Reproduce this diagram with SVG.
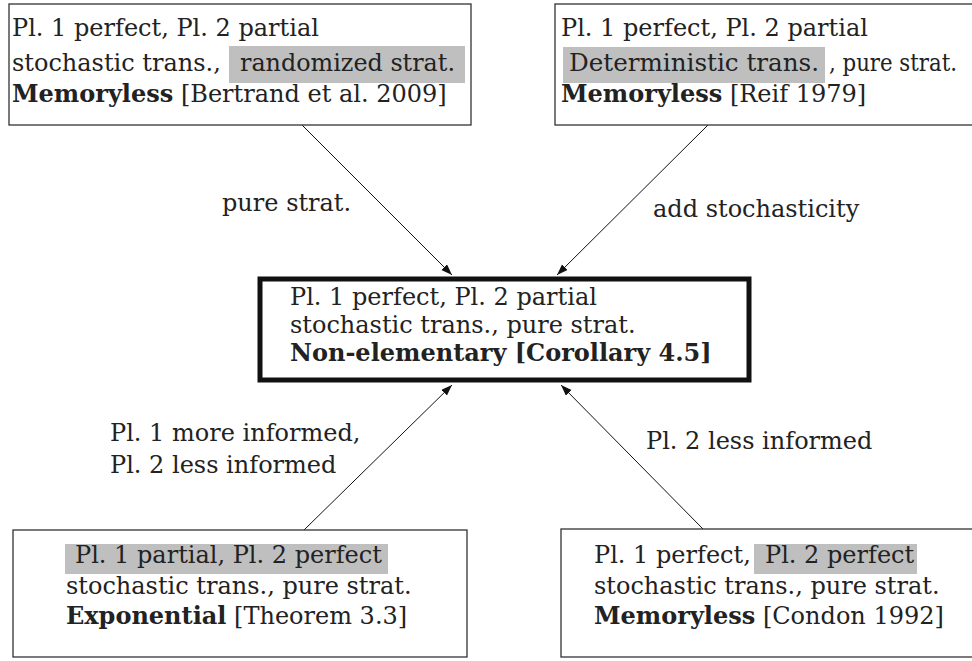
<svg xmlns="http://www.w3.org/2000/svg" width="972" height="661" viewBox="0 0 972 661">
  <defs>
    <marker id="arr" markerUnits="userSpaceOnUse" markerWidth="12" markerHeight="10" refX="11" refY="4" orient="auto">
      <path d="M0,0 L11,4 L0,8 Z" fill="#111"/>
    </marker>
    <style>
      text { font-family: "DejaVu Serif", "Liberation Serif", serif; font-size: 24px; fill: #222; }
      .b { font-weight: bold; }
      .box { fill: #fff; stroke: #333; stroke-width: 1.3; }
      .main { fill: #fff; stroke: #111; stroke-width: 5; }
      .hl { fill: #bfbfbf; stroke: none; }
      .edge { stroke: #111; stroke-width: 1; fill: none; marker-end: url(#arr); }
    </style>
  </defs>
  <rect width="972" height="661" fill="#fff"/>

  <g id="connectors">
    <line class="edge" x1="302" y1="125" x2="452" y2="275"/>
    <line class="edge" x1="708" y1="125" x2="557" y2="275"/>
    <line class="edge" x1="304" y1="530" x2="452" y2="385"/>
    <line class="edge" x1="703" y1="529" x2="561" y2="385"/>
    <text x="222" y="211">pure strat.</text>
    <text x="653" y="217">add stochasticity</text>
    <text x="110" y="441">Pl. 1 more informed,</text>
    <text x="110" y="473">Pl. 2 less informed</text>
    <text x="646" y="449">Pl. 2 less informed</text>
  </g>

  <g id="node-top-left">
    <rect class="box" x="9" y="4" width="462" height="121"/>
    <rect class="hl" x="229" y="46" width="236" height="37"/>
    <text x="12" y="36">Pl. 1 perfect, Pl. 2 partial</text>
    <text x="12" y="71">stochastic trans.,</text>
    <text x="240" y="71" textLength="215" lengthAdjust="spacingAndGlyphs">randomized strat.</text>
    <text x="12" y="102"><tspan class="b">Memoryless</tspan> [Bertrand et al. 2009]</text>
  </g>

  <g id="node-top-right">
    <rect class="box" x="555" y="4" width="430" height="121"/>
    <rect class="hl" x="563" y="47" width="262" height="36"/>
    <text x="569" y="71" textLength="250" lengthAdjust="spacingAndGlyphs">Deterministic trans.</text>
    <text x="561" y="36">Pl. 1 perfect, Pl. 2 partial</text>
    <text x="829" y="71" textLength="128" lengthAdjust="spacingAndGlyphs">, pure strat.</text>
    <text x="561" y="102"><tspan class="b">Memoryless</tspan> [Reif 1979]</text>
  </g>

  <g id="node-center">
    <rect class="main" x="260" y="279" width="489" height="101"/>
    <text x="290" y="305">Pl. 1 perfect, Pl. 2 partial</text>
    <text x="290" y="333">stochastic trans., pure strat.</text>
    <text x="290" y="361" class="b">Non-elementary [Corollary 4.5]</text>
  </g>

  <g id="node-bottom-left">
    <rect class="box" x="13" y="530" width="454" height="127"/>
    <rect class="hl" x="65" y="544" width="323" height="30"/>
    <text x="75" y="563">Pl. 1 partial, Pl. 2 perfect</text>
    <text x="66" y="594">stochastic trans., pure strat.</text>
    <text x="66" y="624"><tspan class="b">Exponential</tspan> [Theorem 3.3]</text>
  </g>

  <g id="node-bottom-right">
    <rect class="box" x="561" y="529" width="430" height="128"/>
    <rect class="hl" x="754" y="544" width="163" height="30"/>
    <text x="594" y="563">Pl. 1 perfect,</text>
    <text x="765" y="563">Pl. 2 perfect</text>
    <text x="594" y="594">stochastic trans., pure strat.</text>
    <text x="594" y="624"><tspan class="b">Memoryless</tspan> [Condon 1992]</text>
  </g>
</svg>
